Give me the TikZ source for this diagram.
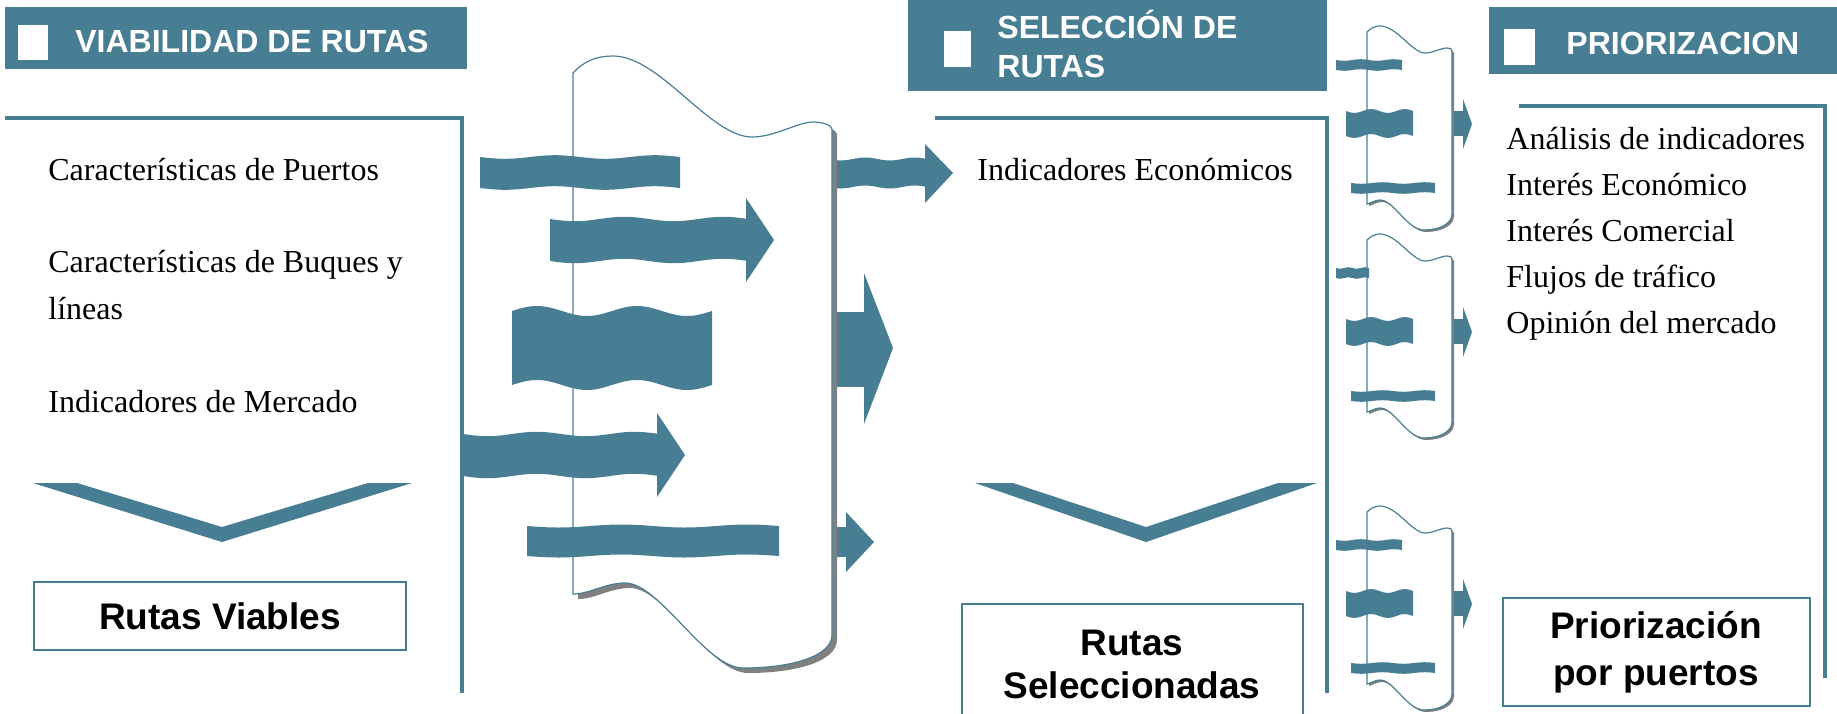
\documentclass[tikz,border=0pt]{standalone}
\usepackage{fontspec}
\setmainfont{Liberation Serif}
\setsansfont{Liberation Sans}
\usetikzlibrary{positioning}

\definecolor{rutateal}{HTML}{487E93}

% wavy band: x-start, x-end, top, height, amplitude
\newcommand{\waveband}[5]{%
  \pgfmathsetmacro{\wq}{((#2)-(#1))/8}%
  \pgfmathsetmacro{\wa}{#5}%
  \pgfmathsetmacro{\wb}{-(#5)}%
  \fill[wave] (#1,#3) sin ++(\wq,\wa) cos ++(\wq,\wb) sin ++(\wq,\wb) cos ++(\wq,\wa)
    sin ++(\wq,\wa) cos ++(\wq,\wb) sin ++(\wq,\wb) cos ++(\wq,\wa)
    -- ++(0,#4)
    sin ++(-\wq,\wb) cos ++(-\wq,\wa) sin ++(-\wq,\wa) cos ++(-\wq,\wb)
    sin ++(-\wq,\wb) cos ++(-\wq,\wa) sin ++(-\wq,\wa) cos ++(-\wq,\wb) -- cycle;%
}

\begin{document}
\begin{tikzpicture}[x=0.5pt, y=-0.5pt,
        %Styles
        wave/.style={fill=rutateal},
        header/.style={fill=rutateal},
        headtext/.style={font=\sffamily\bfseries\fontsize{16}{19.5}\selectfont,
            text=white, inner sep=0pt, anchor=base west, align=left},
        bracket/.style={draw=rutateal, line width=2pt},
        item/.style={font=\fontsize{16}{23.5}\selectfont,
            inner sep=0pt, anchor=base west, align=left},
        result/.style={draw=rutateal, line width=1pt, align=center,
            font=\sffamily\bfseries\fontsize{18.5}{21.5}\selectfont},
        scroll/.style={fill=white, draw=rutateal, line width=0.6pt},
        shade/.style={fill=black!50},
    ]
\useasboundingbox (0,0) rectangle (1837,713);

%headers
\fill[header] (5,7) rectangle (467,69);
\fill[white] (18,25) rectangle (48,60);
\node[headtext] (viabilidad) at (75,52) {VIABILIDAD DE RUTAS};

\fill[header] (908,-2) rectangle (1327,91);
\fill[white] (944,31) rectangle (971,67);
\node[headtext] (seleccion) at (997,77) {SELECCIÓN DE\\RUTAS};

\fill[header] (1489,7) rectangle (1837,74);
\fill[white] (1504,29) rectangle (1535,65);
\node[headtext] (priorizacion) at (1566,54) {PRIORIZACION};

%brackets
\draw[bracket] (5,118) -- (462,118) -- (462,693);
\draw[bracket] (935,118) -- (1327,118) -- (1327,693);
\draw[bracket] (1519,106) -- (1825,106) -- (1825,678);

%texts (base = last line)
\node[item] (puertos) at (48,180) {Características de Puertos};
\node[item] (buques) at (48,319) {Características de Buques y\\líneas};
\node[item] (mercado) at (48,412) {Indicadores de Mercado};
\node[item] (economicos) at (977,180) {Indicadores Económicos};
\node[item, font=\fontsize{16}{23}\selectfont] (criterios) at (1506,333)
    {Análisis de indicadores\\Interés Económico\\Interés Comercial\\Flujos de tráfico\\Opinión del mercado};

%chevrons
\fill[wave] (33,483) -- (77,483) -- (222,527) -- (368,483) -- (412,483) -- (222,542) -- cycle;
\fill[wave] (975,483) -- (1013,483) -- (1146,527) -- (1278,483) -- (1317,483) -- (1146,542) -- cycle;

%results
\node[result, minimum width=186pt, minimum height=34pt] (viables) at (220,616) {Rutas Viables};
\node[result, minimum width=170.5pt, minimum height=60pt] (seleccionadas) at (1132,664) {Rutas\\Seleccionadas};
\node[result, minimum width=153.5pt, minimum height=54pt,
      font=\sffamily\bfseries\fontsize{18.5}{23.5}\selectfont] (porpuertos) at (1656,652) {Priorización\\por puertos};

%big scroll: arrows leaving it
\waveband{828}{927}{159}{28}{1.5}
\fill[wave] (925,144) -- (953,173) -- (925,203) -- cycle;
\fill[wave] (828,312) rectangle (866,387);
\fill[wave] (864,273) -- (893,348) -- (864,424) -- cycle;
\fill[wave] (828,527) rectangle (848,557);
\fill[wave] (846,512) -- (874,542) -- (846,572) -- cycle;

\foreach \off/\sty in {5/shade, 0/scroll}
  \path[\sty, shift={(\off,\off)}] (573,73) .. controls (585,60) and (598,56) .. (613,56)
    .. controls (660,56) and (710,137) .. (752,137)
    .. controls (775,137) and (798,122) .. (813,122)
    .. controls (822,122) and (832,125) .. (832,129) -- (832,635)
    .. controls (832,655) and (795,668) .. (743,668)
    .. controls (705,668) and (660,583) .. (625,583)
    .. controls (605,583) and (590,594) .. (573,594) -- cycle;

%big scroll: bands
\waveband{480}{680}{157}{31}{1.8}
\waveband{550}{748}{219}{42}{2.2}
\fill[wave] (746,198) -- (774,240) -- (746,282) -- cycle;
\waveband{512}{712}{311}{74}{-5}
\waveband{463}{659}{434}{42}{2.2}
\fill[wave] (657,413) -- (685,455) -- (657,497) -- cycle;
\waveband{527}{779}{526}{30}{1.5}

%small scrolls
\foreach \sy/\first in {32/35, 240/2, 512/35}{
  \begin{scope}[shift={(1367,\sy)}]
    \fill[wave] (80,79) rectangle (98,104);
    \fill[wave] (96,67) -- (105,92) -- (96,117) -- cycle;
    \foreach \off/\sty in {2/shade, 0/scroll}
      \path[\sty, shift={(\off,\off)}] (0,0) .. controls (4,-4) and (8,-6) .. (13,-6)
        .. controls (30,-6) and (45,21) .. (58,21)
        .. controls (66,21) and (74,16) .. (80,16)
        .. controls (83,16) and (85,17) .. (85,19) -- (85,182)
        .. controls (85,192) and (72,198) .. (57,198)
        .. controls (40,198) and (27,168) .. (13,168)
        .. controls (8,168) and (4,171) .. (0,172) -- cycle;
    \waveband{-31}{\first}{28}{10}{0.8}
    \waveband{-21}{46}{79}{25}{2}
    \waveband{-16}{68}{151}{10}{0.8}
  \end{scope}
}

\end{tikzpicture}
\end{document}
